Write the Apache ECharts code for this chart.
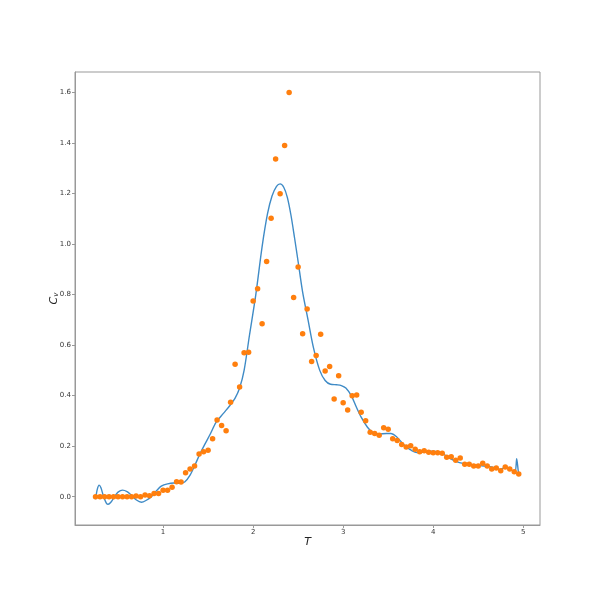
<!DOCTYPE html>
<html>
<head>
<meta charset="utf-8">
<script src="https://cdn.jsdelivr.net/npm/echarts@6/dist/echarts.min.js"></script>
<style>html,body{margin:0;padding:0;background:#fff}#c{width:600px;height:600px}</style>
</head>
<body>
<div id="c"></div>
<script>
// Measured points (T, C_v)
var T = [0.25,0.30,0.35,0.40,0.45,0.50,0.55,0.60,0.65,0.70,0.75,0.80,0.85,0.90,0.95,
1.00,1.05,1.10,1.15,1.20,1.25,1.30,1.35,1.40,1.45,1.50,1.55,1.60,1.65,1.70,1.75,1.80,1.85,1.90,1.95,
2.00,2.05,2.10,2.15,2.20,2.25,2.30,2.35,2.40,2.45,2.50,2.55,2.60,2.65,2.70,2.75,2.80,2.85,2.90,2.95,
3.00,3.05,3.10,3.15,3.20,3.25,3.30,3.35,3.40,3.45,3.50,3.55,3.60,3.65,3.70,3.75,3.80,3.85,3.90,3.95,
4.00,4.05,4.10,4.15,4.20,4.25,4.30,4.35,4.40,4.45,4.50,4.55,4.60,4.65,4.70,4.75,4.80,4.85,4.90,4.95];
var Cv = [0,0,0,0,0,0,0,0,0,0.003,0,0.007,0.004,0.013,0.013,
0.026,0.026,0.037,0.059,0.058,0.095,0.110,0.122,0.169,0.178,0.184,0.229,0.304,0.282,0.261,0.374,0.524,0.434,0.570,0.572,
0.775,0.823,0.685,0.931,1.102,1.337,1.199,1.390,1.600,0.788,0.909,0.645,0.743,0.535,0.559,0.643,0.498,0.515,0.387,0.479,
0.372,0.343,0.400,0.403,0.334,0.301,0.255,0.250,0.243,0.273,0.267,0.229,0.222,0.207,0.197,0.202,0.188,0.178,0.182,0.176,
0.174,0.174,0.172,0.156,0.158,0.144,0.153,0.128,0.128,0.122,0.122,0.132,0.122,0.110,0.114,0.103,0.118,0.110,0.099,0.090];

// Fitted curve
var fitT = [0.25,0.27,0.29,0.31,0.34,0.37,0.39,0.42,0.46,0.50,0.55,0.60,0.65,0.70,0.76,0.81,0.87,0.93,0.98,1.05,1.12,1.18,1.24,1.30,1.36,1.41,1.46,1.52,1.59,1.67,1.74,1.80,1.85,1.90,1.96,2.03,2.10,2.16,2.21,2.26,2.30,2.34,2.38,2.42,2.46,2.50,2.55,2.61,2.67,2.74,2.80,2.86,2.93,2.98,3.03,3.09,3.14,3.20,3.27,3.33,3.40,3.48,3.53,3.59,3.65,3.70,3.76,3.82,3.88,3.94,4.00,4.06,4.11,4.18,4.26,4.33,4.41,4.52,4.63,4.70,4.74,4.79,4.83,4.88,4.91,4.927,4.945,4.95];
var fitCv = [-0.01,0.03,0.046,0.035,0.0,-0.025,-0.030,-0.022,0.0,0.018,0.026,0.02,0.005,-0.012,-0.022,-0.015,0.0,0.025,0.042,0.051,0.054,0.053,0.058,0.085,0.13,0.17,0.205,0.245,0.295,0.33,0.36,0.39,0.43,0.50,0.64,0.80,0.99,1.12,1.19,1.228,1.238,1.225,1.185,1.115,1.025,0.93,0.81,0.70,0.59,0.50,0.46,0.445,0.443,0.44,0.43,0.40,0.36,0.315,0.275,0.254,0.248,0.25,0.25,0.238,0.215,0.198,0.183,0.175,0.176,0.179,0.18,0.176,0.169,0.153,0.139,0.132,0.128,0.123,0.119,0.113,0.108,0.114,0.114,0.103,0.099,0.15,0.10,0.092];

var xTicks = [1,2,3,4,5];
var yTicks = [0.0,0.2,0.4,0.6,0.8,1.0,1.2,1.4,1.6];

var pts = T.map(function(t,i){return [t,Cv[i]];});
var fit = fitT.map(function(t,i){return [t,fitCv[i]];});

var chart = echarts.init(document.getElementById('c'), null, {renderer:'canvas'});
var axisCol = '#999';
chart.setOption({
  animation:false,
  backgroundColor:'#fff',
  grid:{left:75,right:60,top:72,bottom:75,show:true,borderColor:axisCol,borderWidth:1,backgroundColor:'transparent'},
  xAxis:{type:'value',min:0.022,max:5.186,
    name:'T',nameLocation:'middle',nameGap:12,nameMoveOverlap:false,
    nameTextStyle:{fontStyle:'italic',fontSize:11,color:'#222',fontFamily:'DejaVu Sans'},
    axisLine:{onZero:false,lineStyle:{color:axisCol}},
    axisTick:{show:true,inside:false,length:3,customValues:xTicks,lineStyle:{color:axisCol}},
    axisLabel:{customValues:xTicks,fontSize:7,color:'#333',margin:4,fontFamily:'DejaVu Sans',formatter:function(v){return String(v);}},
    splitLine:{show:false}},
  yAxis:{type:'value',min:-0.112,max:1.681,
    name:'{c|C}{v|v}',nameLocation:'middle',nameGap:15,nameRotate:90,nameMoveOverlap:false,
    nameTextStyle:{color:'#222',fontFamily:'DejaVu Sans',rich:{c:{fontStyle:'italic',fontSize:11,color:'#222'},v:{fontStyle:'italic',fontSize:7,color:'#222',padding:[5,0,0,0]}}},
    axisLine:{onZero:false,lineStyle:{color:axisCol}},
    axisTick:{show:true,inside:false,length:3,customValues:yTicks,lineStyle:{color:axisCol}},
    axisLabel:{customValues:yTicks,fontSize:7,color:'#333',margin:4,fontFamily:'DejaVu Sans',formatter:function(v){return v.toFixed(1);}},
    splitLine:{show:false}},
  series:[
    {type:'line',data:fit,smooth:0.3,showSymbol:false,symbol:'none',lineStyle:{color:'#3f8bc6',width:1.4},z:2},
    {type:'scatter',data:pts,symbol:'circle',symbolSize:5.5,itemStyle:{color:'#ff7f0e',opacity:1},z:3}
  ]
});
</script>
</body>
</html>
